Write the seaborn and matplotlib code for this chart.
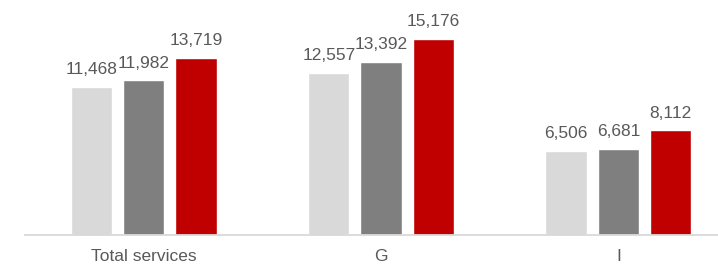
import pandas as pd
import matplotlib
matplotlib.use("Agg")
import matplotlib.pyplot as plt
import seaborn as sns

# data
categories = ["Total services", "G", "I"]
series = ["Series 1", "Series 2", "Series 3"]
values_s1 = [11468, 12557, 6506]
values_s2 = [11982, 13392, 6681]
values_s3 = [13719, 15176, 8112]
colors = ["#D9D9D9", "#7F7F7F", "#C00000"]

df = pd.DataFrame({
    "category": categories * 3,
    "series": [series[0]] * 3 + [series[1]] * 3 + [series[2]] * 3,
    "value": values_s1 + values_s2 + values_s3,
})

sns.set_style("white")
plt.rcParams["font.family"] = ["Liberation Sans", "DejaVu Sans"]

fig = plt.figure(figsize=(7.18, 2.66), dpi=100)
ax = fig.add_axes([25 / 718, 31 / 266, 1 - 25 / 718, 235 / 266])

sns.barplot(data=df, x="category", y="value", hue="series", order=categories,
            hue_order=series, palette=colors, width=0.66, gap=0.21,
            legend=False, ax=ax, saturation=1)

for cont in ax.containers:
    ax.bar_label(cont, labels=[f"{v:,.0f}" for v in cont.datavalues],
                 padding=7, fontsize=12.5, color="#595959")

ax.set_xlim(-0.5, 2.42)
ax.set_ylim(0, 18200)
ax.set_xlabel("")
ax.set_ylabel("")
ax.set_yticks([])
ax.tick_params(axis="x", length=0, pad=10, labelsize=12.5, labelcolor="#595959")
for side in ["top", "right", "left"]:
    ax.spines[side].set_visible(False)
ax.spines["bottom"].set_color("#D9D9D9")
ax.spines["bottom"].set_linewidth(1.3)
ax.patch.set_alpha(0)

fig.savefig("out.png", dpi=100)
